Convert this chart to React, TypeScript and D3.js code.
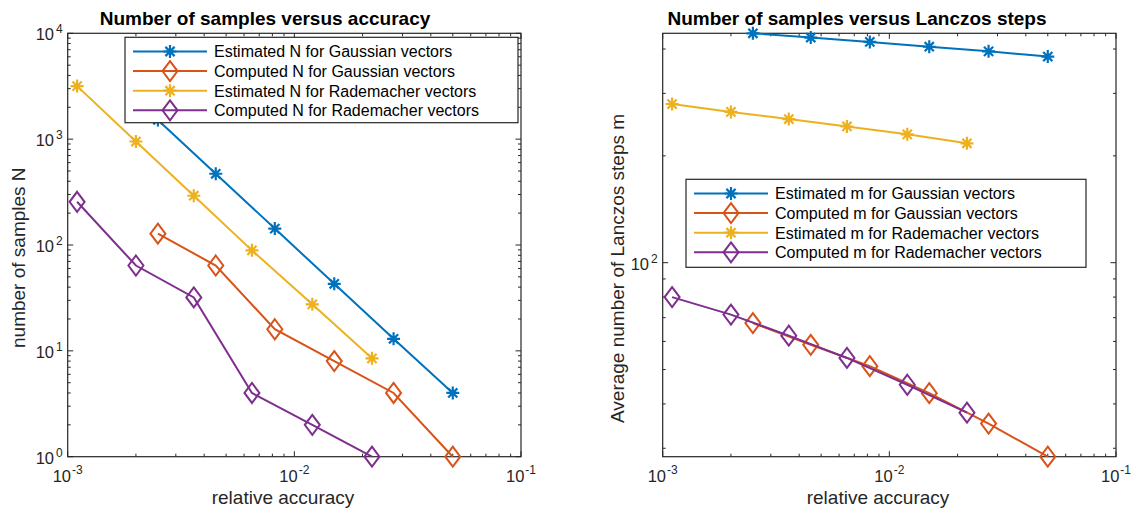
import React from 'react';
import * as d3 from 'd3';

// ---------- data ----------
const xGauss = [0.0025, 0.0045, 0.0082, 0.015, 0.0274, 0.05];
const xRad = [0.0011, 0.002, 0.0036, 0.0065, 0.012, 0.022];

const nEstGauss = [1520, 471, 143, 43, 13, 4];
const nCompGauss = [128, 64, 16, 8, 4, 1];
const nEstRad = [3170, 950, 292, 89, 27.5, 8.5];
const nCompRad = [256, 64, 32, 4, 2, 1];

const mEstGauss = [443, 431, 419, 406, 394, 381];
const mCompGauss = [67.6, 58.7, 51.1, 42.9, 35.2, 28.4];
const mEstRad = [280, 266, 254, 242, 230, 217];
const mCompRad = [80, 71.4, 62.3, 53.9, 45.3, 37.8];

const xTickValues = [0.001, 0.01, 0.1];
const xTickExps = ['-3', '-2', '-1'];
const leftYTickValues = [1, 10, 100, 1000, 10000];
const leftYTickExps = ['0', '1', '2', '3', '4'];
const rightYTickValues = [100];
const rightYTickExps = ['2'];

const leftLegendLabels = [
  'Estimated N for Gaussian vectors',
  'Computed N for Gaussian vectors',
  'Estimated N for Rademacher vectors',
  'Computed N for Rademacher vectors',
];
const rightLegendLabels = [
  'Estimated m for Gaussian vectors',
  'Computed m for Gaussian vectors',
  'Estimated m for Rademacher vectors',
  'Computed m for Rademacher vectors',
];

const COLORS = ['#0072BD', '#D95319', '#EDB120', '#7E2F8E'];
const MARKERS = ['star', 'diamond', 'star', 'diamond'];

const FONT = '"Liberation Sans", Arial, Helvetica, sans-serif';
const AX = '#262626';

type Series = { x: number[]; y: number[]; color: string; marker: string };

const STAR = 'M-6.5,0H6.5M0,-6.5V6.5M-4.6,-4.6L4.6,4.6M-4.6,4.6L4.6,-4.6';
const DIAMOND = 'M0,-10L7.5,0L0,10L-7.5,0Z';

function Marker({ type, x, y, color }: { type: string; x: number; y: number; color: string }) {
  return (
    <path
      d={type === 'star' ? STAR : DIAMOND}
      transform={`translate(${x},${y})`}
      fill="none"
      stroke={color}
      strokeWidth={type === 'star' ? 2.2 : 2}
      strokeLinejoin="miter"
    />
  );
}

function minorTicks(domain: [number, number]) {
  const out: number[] = [];
  const lo = Math.floor(Math.log10(domain[0]));
  const hi = Math.ceil(Math.log10(domain[1]));
  for (let k = lo; k <= hi; k++) {
    for (let m = 2; m <= 9; m++) {
      const v = m * Math.pow(10, k);
      if (v > domain[0] * 1.0001 && v < domain[1] * 0.9999) out.push(v);
    }
  }
  return out;
}

type PanelProps = {
  x0: number; x1: number; y0: number; y1: number;
  yDomain: [number, number];
  series: Series[];
  yTicks: number[]; yExps: string[];
  title: string; titleX: number;
  xlabel: string; xlabelX: number;
  ylabel: string; ylabelX: number; ylabelBottom: number;
  legendLabels: string[];
  legend: { x: number; y: number; w: number; h: number };
};

function Panel(p: PanelProps) {
  const xs = d3.scaleLog().domain([0.001, 0.1]).range([p.x0, p.x1]);
  const ys = d3.scaleLog().domain(p.yDomain).range([p.y1, p.y0]);
  const line = d3.line<[number, number]>().x((d) => xs(d[0])).y((d) => ys(d[1]));
  const MAJ = 5.5;
  const MIN = 3;
  const xMinor = minorTicks([0.001, 0.1]);
  const yMinor = minorTicks(p.yDomain);
  const tickPaths: string[] = [];
  xTickValues.forEach((v) => {
    const x = xs(v);
    tickPaths.push(`M${x},${p.y1}V${p.y1 - MAJ}M${x},${p.y0}V${p.y0 + MAJ}`);
  });
  xMinor.forEach((v) => {
    const x = xs(v);
    tickPaths.push(`M${x},${p.y1}V${p.y1 - MIN}M${x},${p.y0}V${p.y0 + MIN}`);
  });
  p.yTicks.forEach((v) => {
    const y = ys(v);
    tickPaths.push(`M${p.x0},${y}H${p.x0 + MAJ}M${p.x1},${y}H${p.x1 - MAJ}`);
  });
  yMinor.forEach((v) => {
    const y = ys(v);
    tickPaths.push(`M${p.x0},${y}H${p.x0 + MIN}M${p.x1},${y}H${p.x1 - MIN}`);
  });

  const lg = p.legend;
  const rowH = 19.6;
  const row0 = lg.y + 14.2;

  return (
    <g>
      <rect x={p.x0} y={p.y0} width={p.x1 - p.x0} height={p.y1 - p.y0} fill="#fff" />
      <path d={tickPaths.join('')} stroke={AX} strokeWidth={1} fill="none" />
      <rect x={p.x0} y={p.y0} width={p.x1 - p.x0} height={p.y1 - p.y0} fill="none" stroke={AX} strokeWidth={1.2} />
      {/* x tick labels */}
      {xTickValues.map((v, i) => (
        <text key={'xt' + i} x={xs(v)} y={p.y1 + 25} textAnchor="middle" fontFamily={FONT} fontSize={16.5} fill={AX}>
          10<tspan dx={1} dy={-8} fontSize={12}>{xTickExps[i]}</tspan>
        </text>
      ))}
      {/* y tick labels */}
      {p.yTicks.map((v, i) => (
        <text key={'yt' + i} x={p.x0 - 5} y={ys(v) + 7} textAnchor="end" fontFamily={FONT} fontSize={16.5} fill={AX}>
          10<tspan dx={2} dy={-7} fontSize={12}>{p.yExps[i]}</tspan>
        </text>
      ))}
      {/* title */}
      <text x={p.titleX} y={25} textAnchor="middle" fontFamily={FONT} fontSize={19} fontWeight="bold" fill="#000">
        {p.title}
      </text>
      {/* x label */}
      <text x={p.xlabelX} y={504} textAnchor="middle" fontFamily={FONT} fontSize={19} fill={AX}>
        {p.xlabel}
      </text>
      {/* y label */}
      <text
        transform={`translate(${p.ylabelX},${p.ylabelBottom}) rotate(-90)`}
        textAnchor="start"
        fontFamily={FONT}
        fontSize={19}
        fill={AX}
      >
        {p.ylabel}
      </text>
      {/* series */}
      {p.series.map((s, si) => {
        const pts = s.x.map((x, i) => [x, s.y[i]] as [number, number]);
        return (
          <g key={'s' + si}>
            <path d={line(pts) || ''} fill="none" stroke={s.color} strokeWidth={2} />
            {pts.map((d, i) => (
              <Marker key={i} type={s.marker} x={xs(d[0])} y={ys(d[1])} color={s.color} />
            ))}
          </g>
        );
      })}
      {/* legend */}
      <rect x={lg.x} y={lg.y} width={lg.w} height={lg.h} fill="#fff" stroke={AX} strokeWidth={1.2} />
      {p.legendLabels.map((lab, i) => {
        const cy = row0 + i * rowH;
        return (
          <g key={'lg' + i}>
            <line x1={lg.x + 8} x2={lg.x + 82} y1={cy} y2={cy} stroke={COLORS[i]} strokeWidth={2} />
            <Marker type={MARKERS[i]} x={lg.x + 45} y={cy} color={COLORS[i]} />
            <text x={lg.x + 89} y={cy + 5.8} fontFamily={FONT} fontSize={16} fill="#000">
              {lab}
            </text>
          </g>
        );
      })}
    </g>
  );
}

export default function App() {
  const leftSeries: Series[] = [
    { x: xGauss, y: nEstGauss, color: COLORS[0], marker: MARKERS[0] },
    { x: xGauss, y: nCompGauss, color: COLORS[1], marker: MARKERS[1] },
    { x: xRad, y: nEstRad, color: COLORS[2], marker: MARKERS[2] },
    { x: xRad, y: nCompRad, color: COLORS[3], marker: MARKERS[3] },
  ];
  const rightSeries: Series[] = [
    { x: xGauss, y: mEstGauss, color: COLORS[0], marker: MARKERS[0] },
    { x: xGauss, y: mCompGauss, color: COLORS[1], marker: MARKERS[1] },
    { x: xRad, y: mEstRad, color: COLORS[2], marker: MARKERS[2] },
    { x: xRad, y: mCompRad, color: COLORS[3], marker: MARKERS[3] },
  ];
  const mMin = d3.min([...mCompGauss, ...mCompRad, ...mEstGauss, ...mEstRad]) as number;
  const mMax = d3.max([...mCompGauss, ...mCompRad, ...mEstGauss, ...mEstRad]) as number;
  return (
    <svg
      width={1136}
      height={514}
      viewBox="0 0 1136 514"
      style={{ position: 'absolute', left: 0, top: 0, background: '#fff' }}
    >
      <rect width={1136} height={514} fill="#fff" />
      <Panel
        x0={67.7} x1={521} y0={33.3} y1={456.7}
        yDomain={[1, 10000]}
        series={leftSeries}
        yTicks={leftYTickValues} yExps={leftYTickExps}
        title="Number of samples versus accuracy" titleX={265}
        xlabel="relative accuracy" xlabelX={283}
        ylabel="number of samples N" ylabelX={25} ylabelBottom={348}
        legendLabels={leftLegendLabels}
        legend={{ x: 125, y: 37.3, w: 393, h: 85.4 }}
      />
      <Panel
        x0={662.7} x1={1116} y0={33.3} y1={456.7}
        yDomain={[mMin, mMax]}
        series={rightSeries}
        yTicks={rightYTickValues} yExps={rightYTickExps}
        title="Number of samples versus Lanczos steps" titleX={857}
        xlabel="relative accuracy" xlabelX={878}
        ylabel="Average number of Lanczos steps m" ylabelX={624} ylabelBottom={423}
        legendLabels={rightLegendLabels}
        legend={{ x: 686, y: 179.3, w: 400, h: 88 }}
      />
    </svg>
  );
}
